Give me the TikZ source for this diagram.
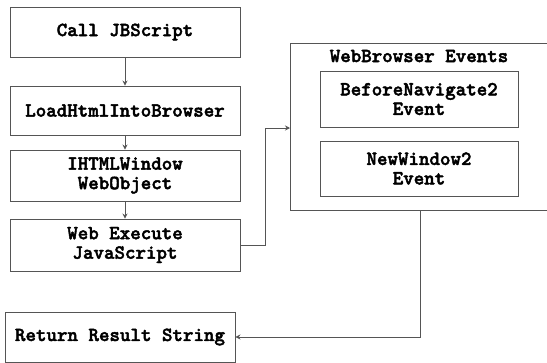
\documentclass[tikz,border=0pt]{standalone}
\usepackage{fontspec}
\usetikzlibrary{arrows.meta}
\newfontfamily\cour{lmmonolt10-bold.otf}[FakeBold=2.2]
\definecolor{edge}{HTML}{555555}
\newcommand\boxfont{\cour\fontsize{20}{19.5}\selectfont}
\tikzset{
  box/.style={draw=edge, line width=0.9pt, rectangle, inner sep=0pt,
    minimum width=230pt, align=center, text=black, font=\boxfont},
  inbox/.style={box, minimum width=198pt},
  flow/.style={draw=edge, line width=0.9pt, -{Stealth[length=5pt,width=5pt]}},
}
\begin{document}
\begin{tikzpicture}[x=1pt,y=-1pt]
  \useasboundingbox (0,0) rectangle (547,362);
  \fill[white] (0,0) rectangle (547,362);
  \clip (0,0) rectangle (547,362);

  % main call chain
  \node[box, minimum height=50pt] (call) at (125,32) {Call JBScript};
  \node[box, minimum height=49pt] (load) at (125,110.5) {LoadHtmlIntoBrowser};
  \node[box, minimum height=51pt] (win) at (125,175.5) {IHTMLWindow\\WebObject};
  \node[box, minimum height=52pt] (exec) at (125,245) {Web Execute\\JavaScript};
  \node[box, minimum height=50pt] (ret) at (120,337) {Return Result String};

  % event container
  \node[box, minimum width=270pt, minimum height=167pt] (events) at (425,126.5) {};
  \node[font=\boxfont, inner sep=0pt] (evtitle) at (419,56) {WebBrowser Events};
  \node[inbox, minimum height=56pt] (nav) at (419,99) {BeforeNavigate2\\Event};
  \node[inbox, minimum height=55pt] (neww) at (419,168.5) {NewWindow2\\Event};

  % connectors
  \draw[flow] (call) -- (load);
  \draw[flow] (load) -- (win);
  \draw[flow] (win) -- (exec);
  \coordinate (jog) at (265,245);
  \draw[flow] (exec.east) -- (jog) |- (290,128);
  \coordinate (drop) at (420,337);
  \draw[flow] (events.south -| drop) -- (drop) -- (ret.east);
\end{tikzpicture}
\end{document}
